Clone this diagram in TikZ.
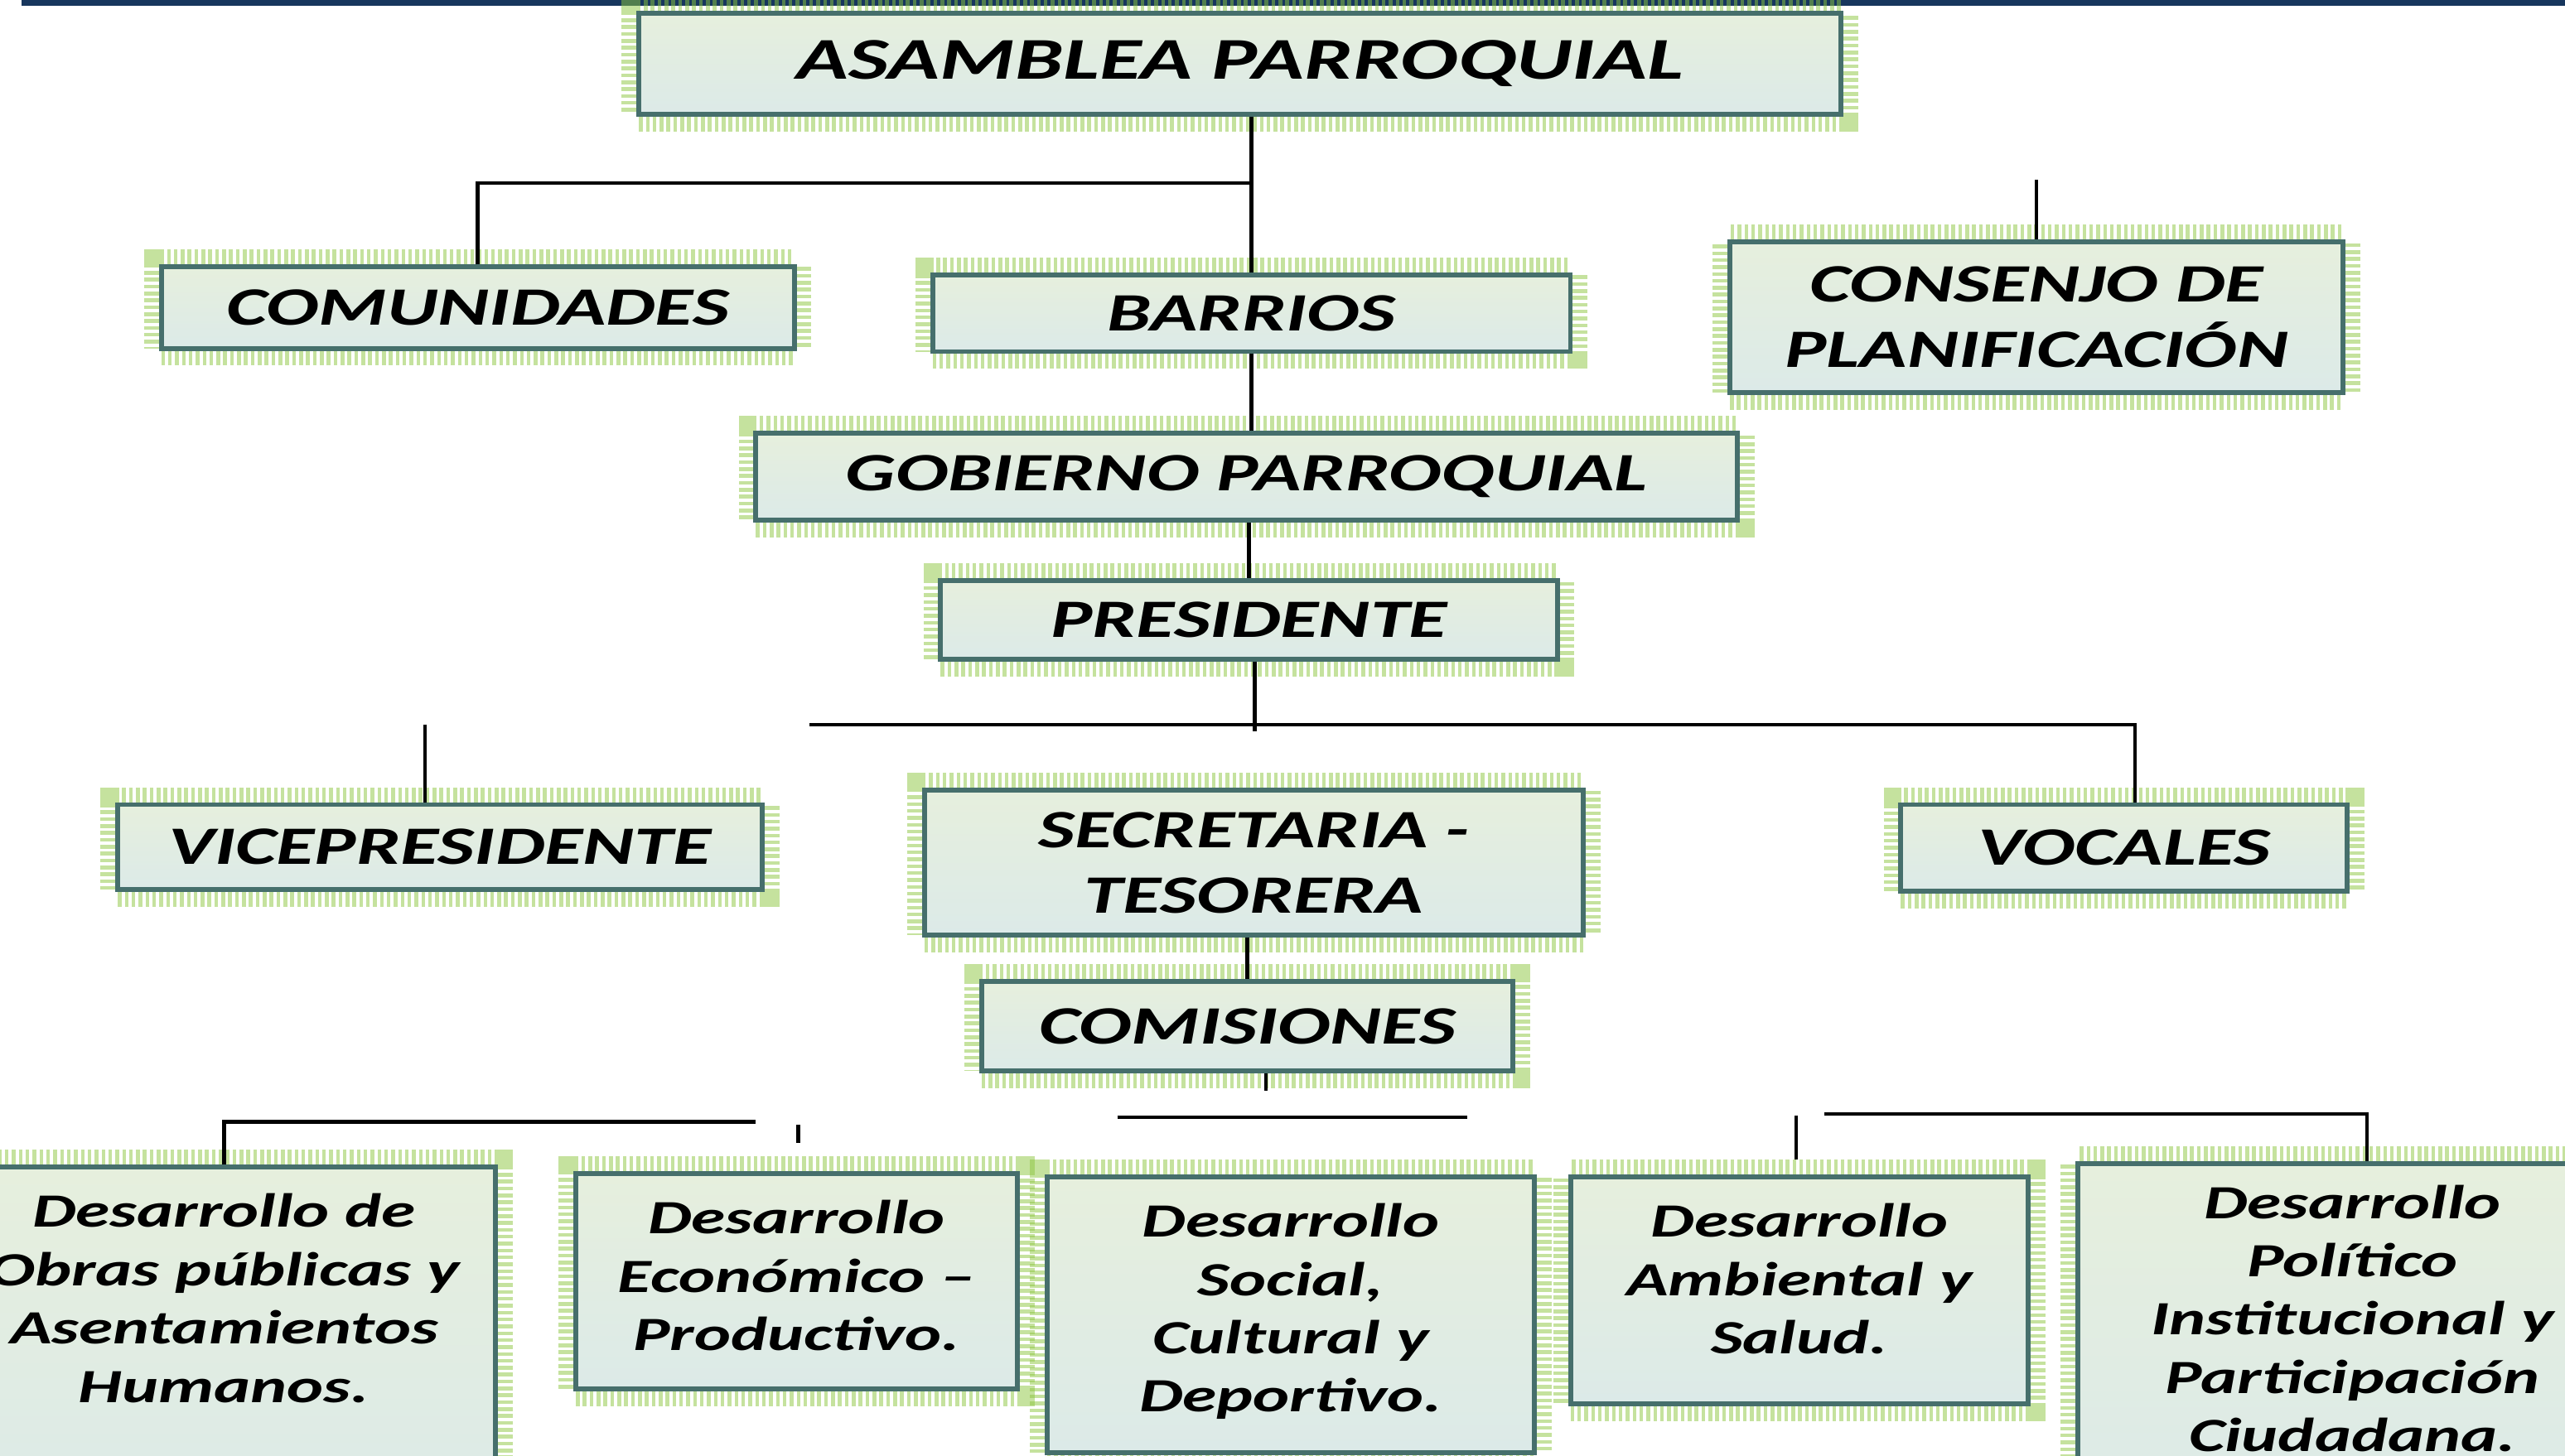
\documentclass[tikz,border=0pt]{standalone}
\usepackage{fontspec}
\usepackage{xcolor}
\usepackage{tikz}
\newfontfamily\orgfont{Carlito}[FakeStretch=1.45]
\definecolor{bandblue}{HTML}{17365D}
\definecolor{boxedge}{HTML}{466F6C}
\definecolor{boxtop}{HTML}{E6EFDD}
\definecolor{boxbot}{HTML}{DCEAE8}
\definecolor{glowgreen}{HTML}{8CC63F}
\tikzset{
  unit/.style={rectangle, draw=boxedge, line width=1.7pt, top color=boxtop, bottom color=boxbot,
               preaction={draw=glowgreen, line width=12pt, dash pattern=on 1.3pt off 1.1pt, draw opacity=0.5},
               align=center, inner sep=0pt, font=\orgfont\bfseries\itshape\fontsize{18.8}{22.8}\selectfont},
  area/.style={unit, anchor=north, inner xsep=0.1cm, inner ysep=0.34cm, text height=0.4cm,
               font=\orgfont\bfseries\itshape\fontsize{16.6}{20.3}\selectfont},
  link/.style={draw=black, line width=1.2pt},
}
\begin{document}
\begin{tikzpicture}[x=0.02cm, y=-0.02cm]
  \useasboundingbox (0,0) rectangle (1568,890);
  \clip (0,0) rectangle (1568,890);
  \fill[white] (0,0) rectangle (1568,890);
  \fill[bandblue] (13,0) rectangle (1568,3.5);

  \node[unit, minimum width=14.7cm, minimum height=1.24cm,
        font=\orgfont\bfseries\itshape\fontsize{20.6}{24}\selectfont] (asamblea) at (758,39) {ASAMBLEA PARROQUIAL};
  \node[unit, minimum width=7.74cm, minimum height=1.0cm] (comunidades) at (292,188) {COMUNIDADES};
  \node[unit, minimum width=7.8cm, minimum height=0.94cm] (barrios) at (765,191.5) {BARRIOS};
  \node[unit, minimum width=7.5cm, minimum height=1.84cm] (consejo) at (1245,194) {CONSENJO DE\\PLANIFICACIÓN};
  \node[unit, minimum width=12.0cm, minimum height=1.06cm] (gobierno) at (762,291.5) {GOBIERNO PARROQUIAL};
  \node[unit, minimum width=7.54cm, minimum height=0.96cm] (presidente) at (763.5,379) {PRESIDENTE};
  \node[unit, minimum width=7.88cm, minimum height=1.04cm] (vice) at (269,518) {VICEPRESIDENTE};
  \node[unit, minimum width=8.06cm, minimum height=1.78cm] (secretaria) at (766.5,527.5) {SECRETARIA -\\TESORERA};
  \node[unit, minimum width=5.46cm, minimum height=1.06cm] (vocales) at (1298.5,518.5) {VOCALES};
  \node[unit, minimum width=6.5cm, minimum height=1.1cm] (comisiones) at (762.5,627.5) {COMISIONES};

  \node[area, text width=6.44cm, text depth=3.28cm] (obras) at (137,712) {Desarrollo de\\Obras públicas y\\Asentamientos\\Humanos.};
  \node[area, text width=5.2cm, text depth=1.56cm] (economico) at (487,716) {Desarrollo\\Económico –\\Productivo.};
  \node[area, text width=5.76cm, text depth=2.3cm] (social) at (789,718) {Desarrollo\\Social,\\Cultural y\\Deportivo.};
  \node[area, text width=5.4cm, text depth=1.7cm] (ambiental) at (1100,718) {Desarrollo\\Ambiental y\\Salud.};
  \node[area, text width=6.52cm, text depth=3.32cm, inner ysep=0.27cm] (politico) at (1438,710) {Desarrollo\\Político\\Institucional y\\Participación\\Ciudadana.};

  \coordinate (splitA) at (764,112);
  \coordinate (tickC) at (1245,110);
  \coordinate (hubP) at (767,447);
  \coordinate (splitP) at (495,443);
  \coordinate (splitV) at (1305,443);
  \coordinate (tickV) at (260,443);
  \coordinate (tickS) at (774,667);
  \coordinate (armL) at (462,686);
  \coordinate (stubB) at (488,688);
  \coordinate (stubBend) at (488,699);
  \coordinate (armM) at (683,683);
  \coordinate (armMend) at (897,683);
  \coordinate (stubD) at (1098,682);
  \coordinate (stubDend) at (1098,709);
  \coordinate (armR) at (1115,681);
  \coordinate (armRend) at (1447,681);

  \draw[link] (asamblea.south -| barrios.north) -- (barrios.north);
  \draw[link] (splitA) -| (comunidades.north);
  \draw[link] (tickC) -- (consejo.north);
  \draw[link] (barrios.south) -- (barrios.south |- gobierno.north);
  \draw[link] (gobierno.south -| presidente.north) -- (presidente.north);
  \draw[link] (presidente.south -| hubP) -- (hubP);
  \draw[link] (splitP) -- (splitV) -- (splitV |- vocales.north);
  \draw[link] (tickV) -- (tickV |- vice.north);
  \draw[link] (secretaria.south -| comisiones.north) -- (comisiones.north);
  \draw[link] (comisiones.south -| tickS) -- (tickS);
  \draw[link] (armL) -| (obras.north);
  \draw[link] (stubB) -- (stubBend);
  \draw[link] (armM) -- (armMend);
  \draw[link] (stubD) -- (stubDend);
  \draw[link] (armR) -- (armRend) -- (armRend |- politico.north);
\end{tikzpicture}
\end{document}
